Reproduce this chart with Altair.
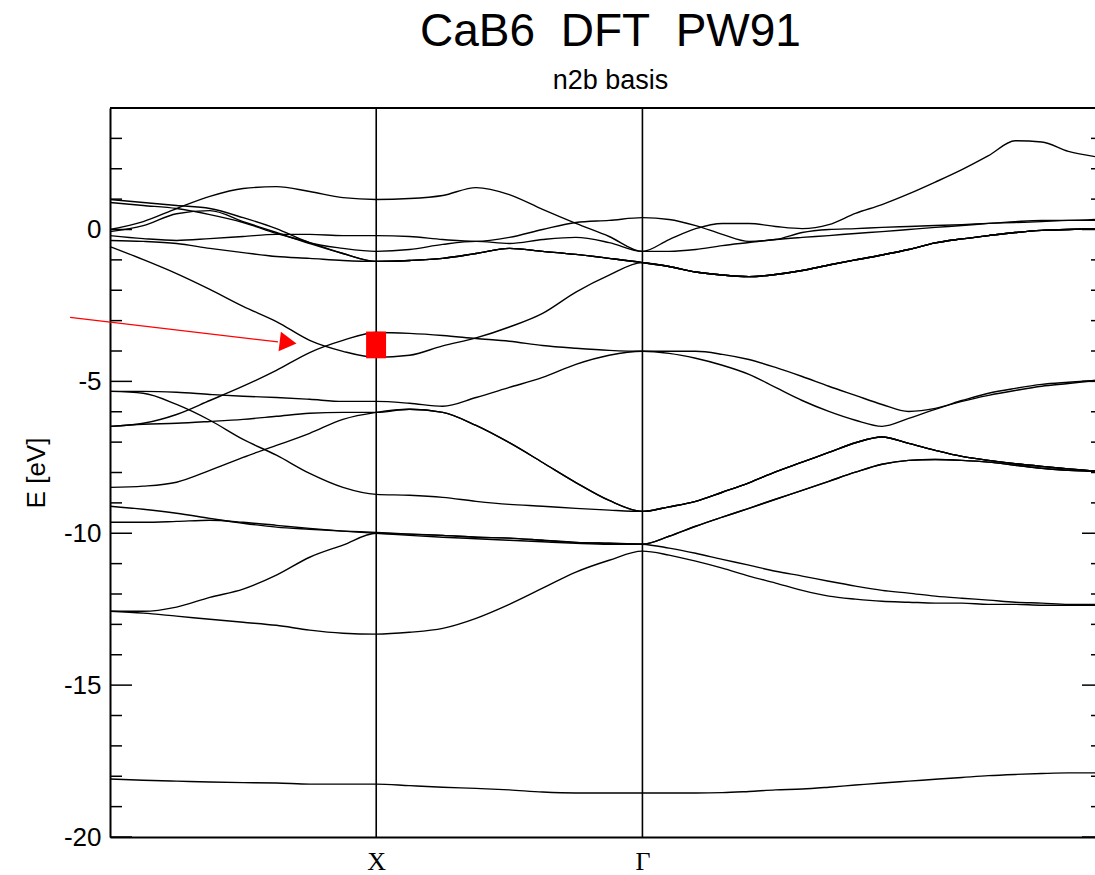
import altair as alt
import pandas as pd

# ---------------- k-path grid (M - X - Gamma - R) ----------------
K_MX = [0.0, 0.125, 0.25, 0.375, 0.5, 0.625, 0.75, 0.875, 1.0]
K_XG = [1.125, 1.25, 1.375, 1.5, 1.625, 1.75, 1.875, 2.0]
K_GR = [2.1, 2.2, 2.3, 2.4, 2.5, 2.6, 2.7, 2.8, 2.9, 3.0, 3.1, 3.2, 3.3, 3.4, 3.5, 3.6, 3.7]
K = K_MX + K_XG + K_GR

# ---------------- band energies (eV), segment by segment ----------------
# M -> X
MX_01 = [-18.09, -18.13, -18.16, -18.19, -18.21, -18.22, -18.26, -18.26, -18.26]
MX_02 = [-12.57, -12.63, -12.73, -12.83, -12.93, -13.03, -13.19, -13.29, -13.32]
MX_03 = [-12.57, -12.57, -12.43, -12.11, -11.84, -11.38, -10.79, -10.39, -10.00]
MX_04 = [-9.64, -9.64, -9.61, -9.57, -9.64, -9.74, -9.84, -9.93, -10.00]
MX_05 = [-9.11, -9.21, -9.34, -9.51, -9.67, -9.80, -9.87, -9.93, -9.97]
MX_06 = [-8.49, -8.45, -8.32, -7.93, -7.50, -7.11, -6.71, -6.25, -6.02]
MX_07 = [-6.48, -6.41, -6.38, -6.32, -6.25, -6.15, -6.05, -6.02, -6.02]
MX_08 = [-5.33, -5.39, -5.76, -6.28, -6.91, -7.43, -8.03, -8.49, -8.72]
MX_09 = [-5.33, -5.33, -5.36, -5.43, -5.49, -5.53, -5.59, -5.66, -5.66]
MX_10 = [-6.48, -6.38, -6.09, -5.63, -5.16, -4.64, -4.05, -3.65, -3.39]
MX_11 = [-0.56, -0.99, -1.45, -1.97, -2.53, -3.03, -3.65, -4.01, -4.21]
MX_12 = [-0.36, -0.39, -0.46, -0.62, -0.76, -0.89, -0.95, -1.02, -1.05]
MX_13 = [-0.20, -0.30, -0.36, -0.30, -0.23, -0.16, -0.16, -0.20, -0.20]
MX_14 = [0.99, 0.89, 0.79, 0.69, 0.39, 0.03, -0.43, -0.62, -0.72]
MX_15 = [0.89, 0.79, 0.69, 0.49, 0.23, -0.13, -0.43, -0.79, -1.05]
MX_16 = [0.00, 0.26, 0.69, 1.09, 1.35, 1.41, 1.25, 1.05, 0.99]
MX_17 = [-0.07, 0.13, 0.52, 0.62, 0.26, -0.10, -0.46, -0.79, -1.05]

# X -> Gamma
XG_LOW = [-18.31, -18.36, -18.40, -18.45, -18.52, -18.55, -18.55, -18.55]
XG_W6 = [-13.26, -13.13, -12.80, -12.34, -11.81, -11.28, -10.89, -10.59]
XG_W4 = [-10.03, -10.07, -10.13, -10.16, -10.23, -10.30, -10.33, -10.36]
XG_W5 = [-10.07, -10.13, -10.18, -10.23, -10.28, -10.33, -10.36, -10.36]
XG_W2 = [-5.92, -6.02, -6.45, -7.02, -7.67, -8.33, -8.92, -9.28]
XG_W3 = [-8.75, -8.82, -8.95, -9.05, -9.11, -9.18, -9.24, -9.28]
XG_W1 = [-5.72, -5.82, -5.53, -5.20, -4.87, -4.44, -4.14, -4.01]
XG_W7 = [-3.42, -3.49, -3.59, -3.68, -3.82, -3.91, -3.98, -4.01]
XG_W8 = [-4.14, -3.83, -3.57, -3.21, -2.76, -2.06, -1.50, -1.09]
XG_D = [-1.02, -0.95, -0.79, -0.62, -0.72, -0.82, -0.95, -1.09]
XG_P = [-0.23, -0.33, -0.39, -0.26, 0.00, 0.23, 0.30, 0.39]
XG_C = [-0.66, -0.49, -0.39, -0.46, -0.33, -0.26, -0.43, -0.72]
XG_A = [1.02, 1.12, 1.38, 1.15, 0.66, 0.20, -0.23, -0.72]

# Gamma -> R
GR_LOW = [-18.55, -18.55, -18.54, -18.50, -18.45, -18.42, -18.36, -18.29, -18.22,
          -18.16, -18.10, -18.04, -17.98, -17.94, -17.91, -17.89, -17.89]
GR_B = [-10.72, -10.92, -11.15, -11.41, -11.64, -11.88, -12.07, -12.17, -12.24,
        -12.27, -12.30, -12.30, -12.34, -12.34, -12.37, -12.37, -12.37]
GR_A = [-10.49, -10.66, -10.86, -11.05, -11.25, -11.41, -11.58, -11.74, -11.88,
        -11.97, -12.07, -12.14, -12.20, -12.27, -12.30, -12.34, -12.34]
GR_V2 = [-10.10, -9.77, -9.47, -9.18, -8.88, -8.59, -8.29, -7.99, -7.73,
         -7.60, -7.57, -7.60, -7.66, -7.76, -7.86, -7.93, -7.96]
GR_V1 = [-9.13, -8.95, -8.65, -8.34, -7.98, -7.66, -7.34, -7.02, -6.83,
         -7.04, -7.27, -7.47, -7.60, -7.71, -7.80, -7.88, -7.96]
GR_U1 = [-4.08, -4.24, -4.47, -4.77, -5.20, -5.63, -5.99, -6.28, -6.48,
         -6.22, -5.92, -5.66, -5.46, -5.30, -5.16, -5.07, -4.97]
GR_U2 = [-4.01, -4.01, -4.11, -4.28, -4.54, -4.84, -5.16, -5.46, -5.76,
         -5.99, -5.89, -5.63, -5.39, -5.23, -5.10, -5.03, -4.97]
GR_D = [-1.22, -1.40, -1.50, -1.55, -1.48, -1.35, -1.17, -1.00, -0.84,
        -0.66, -0.44, -0.31, -0.20, -0.10, -0.03, 0.00, 0.03]
GR_P = [0.33, 0.13, -0.16, -0.39, -0.33, -0.10, 0.00, 0.03, 0.07,
        0.10, 0.13, 0.16, 0.20, 0.23, 0.26, 0.30, 0.30]
GR_S = [-0.72, -0.66, -0.53, -0.43, -0.33, -0.26, -0.20, -0.13, -0.07,
        0.00, 0.07, 0.13, 0.20, 0.26, 0.30, 0.30, 0.33]
GR_T = [-0.33, 0.03, 0.20, 0.20, 0.10, 0.03, 0.16, 0.53, 0.82,
        1.17, 1.56, 1.97, 2.43, 2.92, 2.88, 2.57, 2.40]

BAND_PATHS = [
    (MX_01, XG_LOW, GR_LOW),
    (MX_02, XG_W6, GR_B),
    (MX_03, XG_W4, GR_A),
    (MX_04, XG_W5, GR_V2),
    (MX_05, XG_W4, GR_V2),
    (MX_06, XG_W2, GR_V1),
    (MX_07, XG_W2, GR_V1),
    (MX_08, XG_W3, GR_V1),
    (MX_09, XG_W1, GR_U1),
    (MX_10, XG_W7, GR_U2),
    (MX_11, XG_W8, GR_D),
    (MX_12, XG_D, GR_D),
    (MX_13, XG_P, GR_P),
    (MX_14, XG_C, GR_S),
    (MX_15, XG_D, GR_D),
    (MX_16, XG_A, GR_T),
    (MX_17, XG_D, GR_D),
]

# high-symmetry points
SYM_K = [1.0, 2.0]
SYM_LABELS = ["X", "\u0393"]

# plot range
K_RANGE = [0.0, 3.7]
E_RANGE = [-20, 4]

# axis ticks
MAJOR_TICKS = [-20, -15, -10, -5, 0]
MINOR_TICKS = [v for v in range(-19, 4) if v % 5 != 0]

# red annotation (arrow + marker box)
ARROW_K = [-0.150, 0.631]
ARROW_E = [-2.89, -3.70]
HEAD_K = [0.669]
HEAD_E = [-3.72]
BOX_K = [0.962, 1.037]
BOX_E = [-4.24, -3.36]

# ---------------- build tables ----------------
rows = []
for i, (a, b, c) in enumerate(BAND_PATHS):
    vals = a + b + c
    assert len(vals) == len(K), (i, len(vals))
    for k, e in zip(K, vals):
        rows.append({"band": i, "k": k, "E": e})
bands = pd.DataFrame(rows)

W, H = 985, 729
FONT = "Liberation Sans"
xs = alt.Scale(domain=K_RANGE, nice=False, zero=False)
ys = alt.Scale(domain=E_RANGE, nice=False, zero=False)

x_label_expr = "datum.value == 1 ? '%s' : '%s'" % (SYM_LABELS[0], SYM_LABELS[1])
y_label_expr = "datum.value < 0 ? '-' + (-datum.value) : '' + datum.value"
X_AX = alt.Axis(
    values=SYM_K, labelExpr=x_label_expr, ticks=False, grid=False,
    domain=True, domainColor="black", domainWidth=2,
    labelFont="Liberation Serif", labelFontSize=26, labelColor="black",
    labelPadding=11, title=None)
Y_AX = alt.Axis(
    values=MAJOR_TICKS, labelExpr=y_label_expr, ticks=False, grid=False,
    domain=True, domainColor="black", domainWidth=2,
    labelFont=FONT, labelFontSize=26, labelColor="black", labelPadding=9,
    title="E [eV]", titleFont=FONT, titleFontSize=26,
    titleFontWeight="normal", titleColor="black", titlePadding=14)


def X(field):
    return alt.X(field, scale=xs, axis=X_AX)


def Y(field):
    return alt.Y(field, scale=ys, axis=Y_AX)


lines = alt.Chart(bands).mark_line(
    color="black", strokeWidth=1.4, interpolate="monotone"
).encode(x=X("k:Q"), y=Y("E:Q"), detail="band:N", order="k:Q")

frame_df = pd.DataFrame({"E": [E_RANGE[1]], "k0": [K_RANGE[0]], "k1": [K_RANGE[1]]})
top_frame = alt.Chart(frame_df).mark_rule(color="black", strokeWidth=2).encode(
    y=Y("E:Q"), x=X("k0:Q"), x2="k1:Q")

sym_df = pd.DataFrame({"k": SYM_K, "e0": [E_RANGE[0]] * 2, "e1": [E_RANGE[1]] * 2})
sym = alt.Chart(sym_df).mark_rule(color="black", strokeWidth=1.6).encode(
    x=X("k:Q"), y=Y("e0:Q"), y2="e1:Q")

maj = pd.DataFrame({"E": MAJOR_TICKS})
mnr = pd.DataFrame({"E": MINOR_TICKS})
tick_l_maj = alt.Chart(maj).mark_rule(color="black", strokeWidth=1.5).encode(
    y=Y("E:Q"), x=alt.value(0), x2=alt.value(22))
tick_l_min = alt.Chart(mnr).mark_rule(color="black", strokeWidth=1.5).encode(
    y=Y("E:Q"), x=alt.value(0), x2=alt.value(12))
tick_r_maj = alt.Chart(maj).mark_rule(color="black", strokeWidth=1.5).encode(
    y=Y("E:Q"), x=alt.value(W - 13), x2=alt.value(W))
tick_r_min = alt.Chart(mnr).mark_rule(color="black", strokeWidth=1.5).encode(
    y=Y("E:Q"), x=alt.value(W - 4), x2=alt.value(W))

arrow_line = alt.Chart(pd.DataFrame({"k": ARROW_K, "E": ARROW_E})).mark_line(
    color="red", strokeWidth=1.2
).encode(x=X("k:Q"), y=Y("E:Q"))

arrow_head = alt.Chart(pd.DataFrame({"k": HEAD_K, "E": HEAD_E})).mark_point(
    shape="triangle-right", filled=True, color="red", size=380, angle=7, opacity=1
).encode(x=X("k:Q"), y=Y("E:Q"))

box_df = pd.DataFrame({"k": [BOX_K[0]], "k2": [BOX_K[1]], "E": [BOX_E[0]], "E2": [BOX_E[1]]})
box = alt.Chart(box_df).mark_rect(color="red").encode(
    x=X("k:Q"), x2="k2:Q", y=Y("E:Q"), y2="E2:Q")

chart = alt.layer(
    lines, sym, top_frame, tick_l_maj, tick_l_min, tick_r_maj, tick_r_min,
    arrow_line, arrow_head, box
).properties(
    width=W, height=H,
    padding={"left": 110, "top": 108, "right": 0, "bottom": 38},
    autosize=alt.AutoSizeParams(type="none"),
    background="white",
    title=alt.TitleParams(
        text="CaB6\u00a0 DFT\u00a0 PW91", subtitle="n2b basis",
        font=FONT, fontSize=46, fontWeight="normal", color="black",
        subtitleFont=FONT, subtitleFontSize=27, subtitleColor="black",
        anchor="middle", offset=12, subtitlePadding=12, dx=8),
).configure_view(stroke=None)

chart.save("out.html", embed_options={"renderer": "svg", "actions": False})
